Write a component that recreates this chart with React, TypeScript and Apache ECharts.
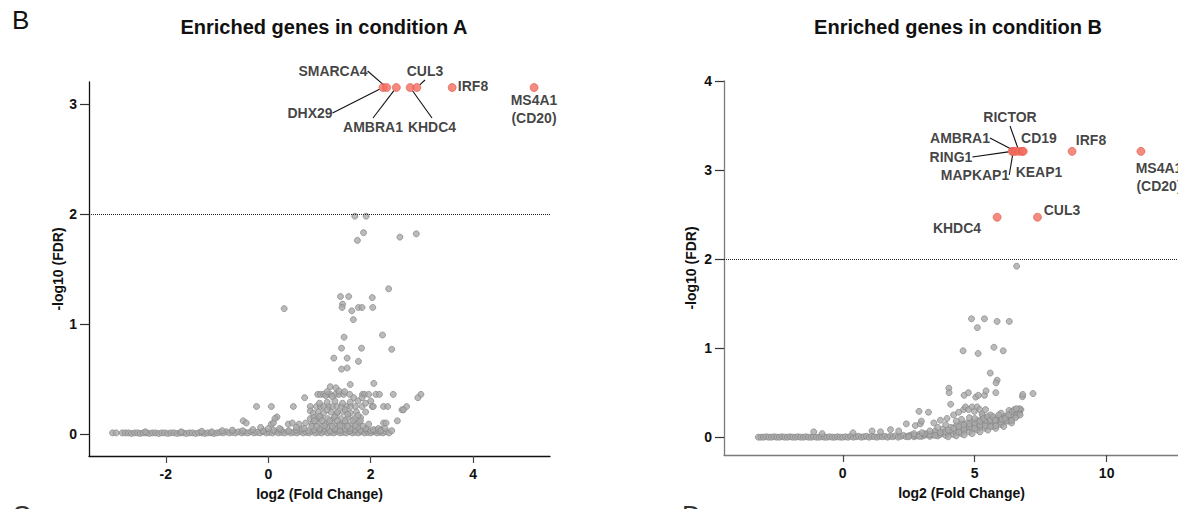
import React, { useEffect, useRef } from "react";
import * as echarts from "echarts";

// ---------- tick labels ----------
const leftXTicks = [-2, 0, 2, 4];
const leftYTicks = [0, 1, 2, 3];
const rightXTicks = [0, 5, 10];
const rightYTicks = [0, 1, 2, 3, 4];
const fdrThreshold = 2;

// ---------- condition A : highlighted genes ----------
const leftGenes = ["DHX29", "SMARCA4", "AMBRA1", "KHDC4", "CUL3", "IRF8", "MS4A1\n(CD20)"];
const leftGeneFC = [2.24, 2.31, 2.5, 2.77, 2.9, 3.59, 5.19];
const leftGeneFDR = [3.15, 3.15, 3.15, 3.15, 3.15, 3.15, 3.15];

// ---------- condition A : other genes [log2FC, -log10 FDR] ----------
const leftGrayHigh = [
  [1.69, 1.98], [1.91, 1.98], [1.86, 1.83], [1.74, 1.76], [2.57, 1.79], [2.89, 1.82],
  [2.35, 1.32], [1.41, 1.25], [1.57, 1.25], [2.03, 1.24], [1.45, 1.18], [1.44, 1.15],
  [1.63, 1.12], [1.76, 1.15], [1.83, 1.15], [2.04, 1.15], [0.31, 1.14], [1.66, 1.04],
  [1.48, 0.88], [2.23, 0.9], [1.43, 0.78], [1.82, 0.78], [2.41, 0.77], [1.28, 0.69],
  [1.54, 0.69], [1.76, 0.66], [1.43, 0.59], [1.54, 0.6], [1.6, 0.45], [2.06, 0.46],
  [1.21, 0.43], [1.32, 0.42], [1.15, 0.385], [1.38, 0.39], [1.49, 0.385],
];
const leftGrayMid = [
  [0.965, 0.36], [1.02, 0.36], [1.08, 0.36], [1.16, 0.36], [1.21, 0.36], [1.31, 0.36],
  [1.38, 0.36], [1.47, 0.36], [1.59, 0.36], [1.84, 0.36], [1.88, 0.36], [1.96, 0.36],
  [2.1, 0.36], [2.17, 0.36], [2.44, 0.36], [2.98, 0.36], [2.92, 0.33], [1.83, 0.33],
  [1.67, 0.33], [0.71, 0.33], [1.25, 0.34], [1.12, 0.35],
  [-0.23, 0.25], [0.06, 0.25], [0.49, 0.25], [0.82, 0.25], [0.94, 0.25], [1.02, 0.25],
  [1.08, 0.25], [1.18, 0.25], [1.26, 0.25], [1.34, 0.25], [1.43, 0.25], [1.53, 0.25],
  [1.61, 0.25], [1.7, 0.25], [1.83, 0.25], [2.03, 0.25], [2.05, 0.25], [2.25, 0.25],
  [2.33, 0.25], [2.7, 0.25], [2.61, 0.22], [2.64, 0.22],
  [0.82, 0.21], [0.88, 0.19], [0.98, 0.2], [1.08, 0.19], [1.22, 0.2], [1.34, 0.19],
  [1.46, 0.2], [1.6, 0.19], [1.72, 0.2], [1.5, 0.22], [1.15, 0.22], [1.9, 0.2],
  [0.17, 0.155], [0.13, 0.14], [0.82, 0.14], [0.89, 0.15], [0.96, 0.14], [1.03, 0.15],
  [1.16, 0.14], [1.29, 0.15], [1.42, 0.14], [1.55, 0.15], [1.68, 0.14], [1.8, 0.15],
  [1.0, 0.16], [1.3, 0.16],
  [-0.49, 0.12], [-0.43, 0.1], [0.06, 0.09], [0.1, 0.1], [0.39, 0.09], [0.47, 0.1],
  [0.6, 0.09], [0.73, 0.1], [0.86, 0.09], [0.99, 0.1], [1.12, 0.09], [1.25, 0.1],
  [1.38, 0.09], [1.51, 0.1], [1.64, 0.09], [1.77, 0.1], [1.96, 0.09], [2.25, 0.1],
  [2.3, 0.1], [2.52, 0.12], [2.41, 0.03],
  [-0.15, 0.06], [0.0, 0.05], [0.22, 0.05], [0.55, 0.06], [0.7, 0.05], [0.85, 0.07],
  [1.0, 0.05], [1.15, 0.06], [1.3, 0.05], [1.45, 0.07], [1.6, 0.05], [1.75, 0.06],
  [1.9, 0.05], [2.05, 0.04], [2.15, 0.05], [2.2, 0.03], [2.28, 0.05],
  [0.9, 0.12], [1.05, 0.12], [1.2, 0.12], [1.35, 0.12], [1.5, 0.12], [1.65, 0.12],
  [1.8, 0.12], [0.95, 0.07], [1.1, 0.075], [1.25, 0.07], [1.4, 0.075], [1.55, 0.07],
  [1.7, 0.075], [1.85, 0.07], [1.0, 0.28], [1.15, 0.29], [1.3, 0.3], [1.45, 0.28],
  [1.6, 0.29], [1.75, 0.3], [1.9, 0.28], [2.0, 0.3], [1.35, 0.2], [1.55, 0.18], [1.75, 0.17],
];
const leftGrayBand = [
  [-3.04, 0.01], [-2.97, 0.01], [-2.85, 0.01], [-2.79, 0.01], [-2.73, 0.01], [-2.67, 0.005],
  [-2.61, 0.01], [-2.55, 0.01], [-2.5, 0.005], [-2.44, 0.01], [-2.38, 0.01], [-2.32, 0.005],
  [-2.26, 0.01], [-2.2, 0.01], [-2.14, 0.005], [-2.08, 0.01], [-2.02, 0.01], [-1.96, 0.005],
  [-1.9, 0.01], [-1.84, 0.01], [-1.78, 0.005], [-1.72, 0.01], [-1.66, 0.01], [-1.6, 0.005],
  [-1.54, 0.01], [-1.48, 0.01], [-1.42, 0.005], [-1.36, 0.01], [-1.3, 0.01], [-1.24, 0.005],
  [-1.18, 0.01], [-1.12, 0.01], [-1.06, 0.005], [-1.0, 0.01], [-0.94, 0.015], [-0.88, 0.01],
  [-0.82, 0.02], [-0.76, 0.01], [-0.7, 0.015], [-0.64, 0.01], [-0.58, 0.02], [-0.52, 0.01],
  [-0.46, 0.015], [-0.4, 0.01], [-0.34, 0.02], [-0.28, 0.01], [-0.22, 0.015], [-0.16, 0.01],
  [-0.1, 0.02], [-0.04, 0.01], [0.02, 0.015], [0.08, 0.01], [0.14, 0.02], [0.2, 0.01],
  [0.26, 0.015], [0.32, 0.01], [0.38, 0.02], [0.44, 0.01], [0.5, 0.015], [0.56, 0.01],
  [0.62, 0.02], [0.68, 0.01], [0.74, 0.015], [0.8, 0.01], [0.86, 0.02], [0.92, 0.01],
  [0.98, 0.015], [1.04, 0.01], [1.1, 0.02], [1.16, 0.01], [1.22, 0.015], [1.28, 0.01],
  [1.34, 0.02], [1.4, 0.01], [1.46, 0.015], [1.52, 0.01], [1.58, 0.02], [1.64, 0.01],
  [1.7, 0.015], [1.76, 0.01], [1.82, 0.02], [1.88, 0.01], [1.94, 0.015], [2.0, 0.01],
  [2.06, 0.02], [2.12, 0.01], [2.18, 0.015], [2.24, 0.01], [2.3, 0.02], [2.36, 0.01],
  [-0.9, 0.03], [-0.7, 0.035], [-0.5, 0.03], [-0.3, 0.04], [-0.1, 0.03], [0.1, 0.035],
  [0.25, 0.04], [0.4, 0.03], [0.55, 0.035], [0.65, 0.045], [0.78, 0.03], [0.9, 0.04],
  [1.0, 0.035], [1.1, 0.045], [1.2, 0.03], [1.3, 0.04], [1.4, 0.035], [1.5, 0.045],
  [1.6, 0.03], [1.7, 0.04], [1.8, 0.035], [1.9, 0.045], [2.0, 0.03], [2.1, 0.035],
  [2.2, 0.04], [-2.4, 0.02], [-1.7, 0.02], [-1.3, 0.025], [-1.1, 0.02],
];

// ---------- condition B : highlighted genes ----------
const rightGenes = ["RING1", "MAPKAP1", "AMBRA1", "RICTOR", "CD19", "KEAP1", "IRF8", "MS4A1\n(CD20)", "KHDC4", "CUL3"];
const rightGeneFC = [6.42, 6.46, 6.55, 6.68, 6.8, 6.84, 8.69, 11.3, 5.85, 7.38];
const rightGeneFDR = [3.21, 3.21, 3.21, 3.21, 3.21, 3.21, 3.21, 3.21, 2.47, 2.47];

// ---------- condition B : other genes ----------
const rightGrayHigh = [
  [6.59, 1.92], [4.88, 1.33], [5.37, 1.33], [5.85, 1.3], [6.31, 1.3], [5.1, 1.23],
  [4.56, 0.97], [5.13, 0.94], [5.73, 1.01], [6.08, 0.97], [5.59, 0.72], [5.85, 0.64],
  [5.81, 0.61], [4.02, 0.55], [4.03, 0.5], [4.6, 0.47], [4.76, 0.5], [5.04, 0.45],
  [5.14, 0.47], [5.37, 0.47], [5.43, 0.52], [5.8, 0.5], [6.81, 0.455], [6.82, 0.48],
  [7.21, 0.49], [4.09, 0.37], [2.89, 0.29], [3.25, 0.28], [2.41, 0.15], [2.75, 0.13],
  [2.94, 0.15], [2.98, 0.18],
  [4.2, 0.25], [4.39, 0.28], [4.58, 0.31], [4.65, 0.34], [4.77, 0.31], [4.9, 0.34],
  [4.99, 0.29], [5.09, 0.34], [5.19, 0.31], [5.28, 0.26], [5.34, 0.21], [5.41, 0.31],
  [5.49, 0.23], [5.59, 0.19], [5.7, 0.23], [5.78, 0.19], [5.91, 0.25], [6.04, 0.2],
  [6.16, 0.21], [6.29, 0.25], [6.42, 0.29], [6.5, 0.31], [6.58, 0.32], [3.95, 0.21],
  [3.7, 0.19], [3.45, 0.16],
  [-1.1, 0.06], [-0.78, 0.04], [0.39, 0.05], [1.11, 0.07], [1.43, 0.06], [1.81, 0.085],
  [2.12, 0.07],
];
const rightGrayBand = [
  [-3.2, 0], [-3.1, 0], [-3.0, 0], [-2.9, 0.005], [-2.8, 0], [-2.7, 0], [-2.6, 0.005],
  [-2.5, 0], [-2.4, 0], [-2.3, 0.005], [-2.2, 0], [-2.1, 0], [-2.0, 0.005], [-1.9, 0],
  [-1.8, 0], [-1.7, 0.005], [-1.6, 0], [-1.5, 0], [-1.4, 0.005], [-1.3, 0], [-1.2, 0],
  [-1.1, 0.005], [-1.0, 0], [-0.9, 0], [-0.8, 0.005], [-0.7, 0], [-0.6, 0], [-0.5, 0.005],
  [-0.4, 0], [-0.3, 0], [-0.2, 0.005], [-0.1, 0], [0.0, 0], [0.1, 0.005], [0.2, 0],
  [0.3, 0.01], [0.4, 0], [0.5, 0.005], [0.6, 0.01], [0.7, 0], [0.8, 0.005], [0.9, 0.01],
  [1.0, 0], [1.1, 0.01], [1.2, 0.005], [1.3, 0], [1.4, 0.01], [1.5, 0.005], [1.6, 0.01],
  [1.7, 0], [1.8, 0.01], [1.9, 0.005], [2.0, 0.015], [2.1, 0], [2.2, 0.01], [2.3, 0.02],
  [2.4, 0.005], [2.5, 0.015], [2.6, 0.025], [2.7, 0.005], [2.8, 0.015], [2.9, 0.03],
  [3.0, 0.01], [3.1, 0.02], [3.2, 0.035], [3.3, 0.01], [3.4, 0.025], [3.5, 0.045],
  [3.6, 0.015], [3.7, 0.03], [3.8, 0.055], [3.9, 0.02], [4.0, 0.04], [4.1, 0.07],
  [4.2, 0.03], [4.3, 0.05], [4.4, 0.09], [4.5, 0.04], [4.6, 0.07], [4.7, 0.11],
  [4.8, 0.06], [4.9, 0.09], [5.0, 0.13], [5.1, 0.08], [5.2, 0.11], [5.3, 0.15],
  [5.4, 0.1], [5.5, 0.13], [5.6, 0.17], [5.7, 0.12], [5.8, 0.15], [5.9, 0.19],
  [6.0, 0.14], [6.1, 0.17], [6.2, 0.21], [6.3, 0.18], [6.4, 0.22], [6.5, 0.26],
  [6.6, 0.24], [6.7, 0.29], [6.75, 0.31], [6.7, 0.27],
  [3.5, 0.07], [3.8, 0.09], [4.1, 0.11], [4.3, 0.13], [4.5, 0.15], [4.7, 0.16],
  [4.9, 0.17], [5.1, 0.19], [5.3, 0.2], [5.5, 0.21], [5.7, 0.21], [5.9, 0.22],
  [6.1, 0.23], [6.3, 0.25], [6.5, 0.28], [4.0, 0.005], [4.3, 0.015], [4.6, 0.025],
  [4.9, 0.04], [5.2, 0.06], [5.5, 0.08], [5.8, 0.1], [6.1, 0.12], [6.4, 0.16],
  [2.5, 0.005], [2.7, 0.02], [2.9, 0.01], [3.1, 0.04], [3.3, 0.03], [3.5, 0.02],
  [3.7, 0.05], [3.9, 0.06], [4.0, 0.08], [4.2, 0.1], [4.4, 0.06], [4.4, 0.12],
  [4.6, 0.1], [4.6, 0.14], [4.8, 0.12], [4.8, 0.15], [5.0, 0.1], [5.0, 0.16],
  [5.2, 0.14], [5.2, 0.18], [5.4, 0.13], [5.4, 0.19], [5.6, 0.12], [5.6, 0.2],
  [5.8, 0.13], [5.8, 0.2], [6.0, 0.17], [6.0, 0.21], [6.2, 0.18], [6.2, 0.24],
  [6.4, 0.19], [6.4, 0.25], [6.55, 0.22], [6.6, 0.28], [6.65, 0.3], [6.7, 0.32],
  [6.72, 0.25], [4.5, 0.2], [4.8, 0.22], [5.0, 0.21], [5.3, 0.24], [5.6, 0.25],
  [6.0, 0.27], [6.3, 0.3], [4.3, 0.18], [3.9, 0.14], [3.6, 0.11], [3.3, 0.07],
  [3.0, 0.05], [2.7, 0.04],
];

// ---------- annotation layout (label centres in px, guide line on/off) ----------
const leftLabelPos = [[310, 113], [333, 71], [373, 127], [432, 127], [425, 71], [473, 86], [534, 109]];
const leftLabelLine = [true, true, true, true, true, false, false];
const rightLabelPos = [[951, 157], [975, 175], [960, 138], [1010, 117], [1039, 138], [1039, 172], [1091, 140], [1159, 177], [957, 228], [1062, 210]];
const rightLabelLine = [true, true, true, true, false, false, false, false, false, false];

const FONT = "'Liberation Sans', Arial, Helvetica, sans-serif";
const GRAY = { color: "#a9a9a9", borderColor: "#868686", borderWidth: 0.9 };
const RED = { color: "#f26d5e", borderColor: "#e2574a", borderWidth: 0.8 };

function axisX(grid: number, min: number, max: number, ticks: number[], lineColor: string) {
  return {
    gridIndex: grid, type: "value", min, max,
    splitLine: { show: false },
    axisLine: { onZero: false, lineStyle: { color: lineColor, width: 1.3 } },
    axisTick: { customValues: ticks, length: 7, lineStyle: { color: "#444", width: 1.2 } },
    axisLabel: { customValues: ticks, fontSize: 14, fontWeight: "bold", color: "#111", margin: 11, fontFamily: FONT },
    name: "log2 (Fold Change)", nameLocation: "middle", nameGap: 31,
    nameTextStyle: { fontSize: 14, fontWeight: "bold", color: "#111", fontFamily: FONT },
  };
}
function axisY(grid: number, min: number, max: number, ticks: number[], lineColor: string, gap: number) {
  return {
    gridIndex: grid, type: "value", min, max,
    splitLine: { show: false },
    axisLine: { onZero: false, lineStyle: { color: lineColor, width: 1.3 } },
    axisTick: { customValues: ticks, length: 9, lineStyle: { color: "#333", width: 1.2 } },
    axisLabel: { customValues: ticks, fontSize: 14, fontWeight: "bold", color: "#111", margin: 12, fontFamily: FONT },
    name: "-log10 (FDR)", nameLocation: "middle", nameGap: gap, nameRotate: 90,
    nameTextStyle: { fontSize: 14, fontWeight: "bold", color: "#111", fontFamily: FONT },
  };
}
function redSeries(ax: number, genes: string[], fc: number[], fdr: number[], pos: number[][], lines: boolean[]) {
  return {
    type: "scatter", xAxisIndex: ax, yAxisIndex: ax, symbolSize: 8, z: 5,
    itemStyle: RED,
    data: genes.map((g, i) => ({ name: g, value: [fc[i], fdr[i]], labelLine: { show: lines[i] } })),
    label: {
      show: true, formatter: "{b}", fontSize: 14, fontWeight: "bold", color: "#111",
      fontFamily: FONT, lineHeight: 18, align: "center", verticalAlign: "middle",
    },
    labelLine: { show: true, lineStyle: { color: "#111", width: 1.1 } },
    labelLayout: (p: any) => ({ x: pos[p.dataIndex][0], y: pos[p.dataIndex][1], align: "center", verticalAlign: "middle" }),
  };
}
function graySeries(ax: number, data: number[][]) {
  return {
    type: "scatter", xAxisIndex: ax, yAxisIndex: ax, symbolSize: 6, z: 2,
    itemStyle: GRAY, data, silent: true,
    markLine: {
      silent: true, symbol: ["none", "none"], label: { show: false },
      lineStyle: { type: "dotted", color: "#222", width: 1 },
      data: [{ yAxis: fdrThreshold }],
    },
  };
}

export default function App() {
  const ref = useRef<HTMLDivElement>(null);
  useEffect(() => {
    if (!ref.current) return;
    const chart = echarts.init(ref.current, null, { renderer: "svg" });
    const option: any = {
      animation: false,
      textStyle: { fontFamily: FONT },
      grid: [
        { left: 89, top: 82, width: 461, height: 374, outerBoundsMode: "none", containLabel: false },
        { left: 724, top: 81, width: 475, height: 374, outerBoundsMode: "none", containLabel: false },
      ],
      xAxis: [axisX(0, -3.5, 5.5, leftXTicks, "#111"), axisX(1, -4.5, 13.5, rightXTicks, "#7a7a7a")],
      yAxis: [axisY(0, -0.2, 3.2, leftYTicks, "#111", 24), axisY(1, -0.2, 4, rightYTicks, "#7a7a7a", 26)],
      series: [
        graySeries(0, [...leftGrayBand, ...leftGrayMid, ...leftGrayHigh]),
        redSeries(0, leftGenes, leftGeneFC, leftGeneFDR, leftLabelPos, leftLabelLine),
        graySeries(1, [...rightGrayBand, ...rightGrayHigh]),
        redSeries(1, rightGenes, rightGeneFC, rightGeneFDR, rightLabelPos, rightLabelLine),
      ],
      graphic: [
        { type: "text", left: 12, top: 7, style: { text: "B", fontSize: 26, fill: "#111", fontFamily: FONT } },
        { type: "text", x: 324, y: 27, style: { text: "Enriched genes in condition A", fontSize: 20, fontWeight: "bold", fill: "#111", fontFamily: FONT, textAlign: "center", textVerticalAlign: "middle" } },
        { type: "text", x: 958, y: 27, style: { text: "Enriched genes in condition B", fontSize: 20, fontWeight: "bold", fill: "#111", fontFamily: FONT, textAlign: "center", textVerticalAlign: "middle" } },
        { type: "text", left: 12, top: 502, style: { text: "C", fontSize: 26, fill: "#333", fontFamily: FONT } },
        { type: "text", left: 682, top: 502, style: { text: "D", fontSize: 26, fill: "#333", fontFamily: FONT } },
      ],
    };
    chart.setOption(option);
    return () => chart.dispose();
  }, []);
  return <div ref={ref} style={{ position: "absolute", left: 0, top: 0, width: 1178, height: 509 }} />;
}
